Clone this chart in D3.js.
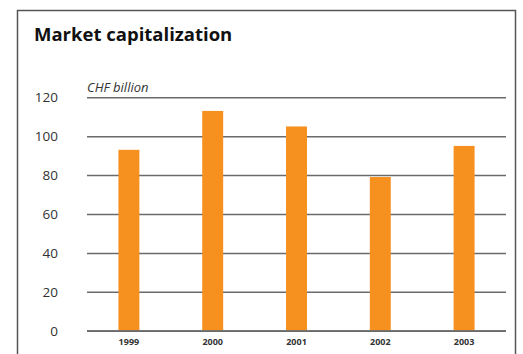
<!DOCTYPE html>
<html>
<head>
<meta charset="utf-8">
<script src="https://cdn.jsdelivr.net/npm/d3@7"></script>
<style>
  html, body { margin: 0; padding: 0; background: #fff; }
  svg { display: block; }
</style>
</head>
<body>
<svg id="chart" width="523" height="354"></svg>
<script>
// Market capitalization, CHF billion
const years = ["1999", "2000", "2001", "2002", "2003"];
const values = [93, 113, 105, 79, 95];
const yTicks = [0, 20, 40, 60, 80, 100, 120];

const svg = d3.select("#chart");
const W = 523, H = 354;
const plot = { left: 87, right: 506, top: 97.3, bottom: 330.7 };

// outer frame (open at the bottom)
svg.append("path")
  .attr("d", `M17.5,${H} V10.5 H515.5 V${H}`)
  .attr("fill", "none")
  .attr("stroke", "#555")
  .attr("stroke-width", 1.5);

svg.append("text")
  .attr("x", 34).attr("y", 41)
  .attr("font-family", "Open Sans, sans-serif")
  .attr("font-weight", "bold")
  .attr("font-size", 18.5)
  .attr("fill", "#111")
  .text("Market capitalization");

const x = d3.scaleBand()
  .domain(years)
  .range([plot.left, plot.right])
  .paddingInner(0.75)
  .paddingOuter(0.375);

const y = d3.scaleLinear()
  .domain([0, 120])
  .range([plot.bottom, plot.top]);

// horizontal gridlines + left tick labels
const yAxis = d3.axisLeft(y)
  .tickValues(yTicks)
  .tickSize(-(plot.right - plot.left))
  .tickPadding(29);

const gy = svg.append("g")
  .attr("transform", `translate(${plot.left},0)`)
  .call(yAxis);
gy.select(".domain").remove();
gy.selectAll(".tick line")
  .attr("stroke", "#6b6b6b")
  .attr("stroke-width", 1.5);
gy.selectAll(".tick text")
  .attr("font-family", "Open Sans, sans-serif")
  .attr("font-size", 13.5)
  .attr("fill", "#333");

svg.append("text")
  .attr("x", plot.left).attr("y", 91.5)
  .attr("font-family", "Open Sans, sans-serif")
  .attr("font-style", "italic")
  .attr("font-size", 13)
  .attr("fill", "#333")
  .text("CHF billion");

// bars
svg.append("g").selectAll("rect")
  .data(years.map((d, i) => ({ year: d, value: values[i] })))
  .join("rect")
  .attr("x", d => x(d.year))
  .attr("y", d => y(d.value))
  .attr("width", x.bandwidth())
  .attr("height", d => y(0) - y(d.value))
  .attr("fill", "#F6901E");

// baseline drawn over bars
svg.append("line")
  .attr("x1", plot.left).attr("x2", plot.right)
  .attr("y1", y(0)).attr("y2", y(0))
  .attr("stroke", "#6b6b6b")
  .attr("stroke-opacity", 0.85)
  .attr("stroke-width", 1.5);

// year labels
const xAxis = d3.axisBottom(x).tickSize(0).tickPadding(8);
const gx = svg.append("g")
  .attr("transform", `translate(0,${plot.bottom})`)
  .call(xAxis);
gx.select(".domain").remove();
gx.selectAll(".tick text")
  .attr("font-family", "Open Sans, sans-serif")
  .attr("font-weight", "bold")
  .attr("font-size", 9)
  .attr("fill", "#333");
</script>
</body>
</html>
